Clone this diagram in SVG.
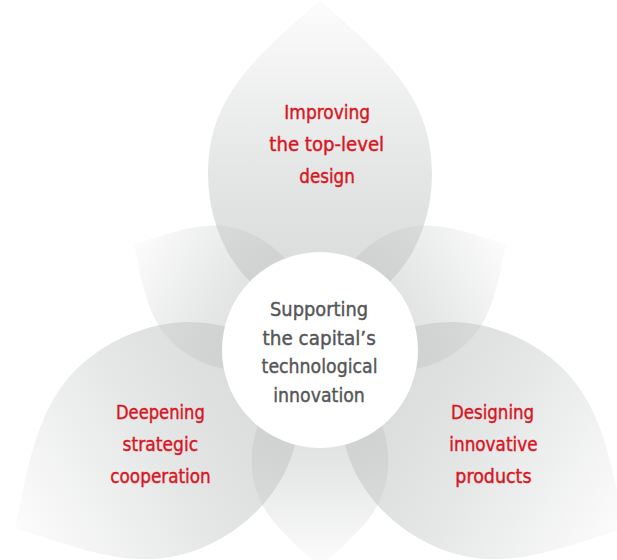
<svg xmlns="http://www.w3.org/2000/svg" width="617" height="560" viewBox="0 0 617 560">
  <defs>
    <linearGradient id="petalGrad" gradientUnits="userSpaceOnUse" x1="0" y1="-352" x2="0" y2="-40">
      <stop offset="0" stop-color="#c9cbcb" stop-opacity="0.06"/>
      <stop offset="0.2" stop-color="#c9cbcb" stop-opacity="0.22"/>
      <stop offset="0.56" stop-color="#c9cbcb" stop-opacity="0.5"/>
      <stop offset="1" stop-color="#c9cbcb" stop-opacity="0.74"/>
    </linearGradient>
    <path id="petal" d="M0,-352 C62,-296 112,-258 112,-178 A112,138 0 0 1 -112,-178 C-112,-258 -62,-296 0,-352 Z"/>
  </defs>
  <style>
    .petal { fill: url(#petalGrad); }
    .label { font-family: "DejaVu Sans Condensed", "DejaVu Sans", sans-serif; font-stretch: condensed; font-size: 20px; stroke-width: 0.4px; }
    .red { fill: #d7161f; stroke: #d7161f; }
    .dark { fill: #555657; stroke: #555657; }
  </style>
  <rect width="617" height="560" fill="#ffffff"/>

  <g id="petal-back-upper-left">
    <use href="#petal" class="petal" transform="translate(320,352) rotate(300) scale(0.61)"/>
  </g>
  <g id="petal-back-upper-right">
    <use href="#petal" class="petal" transform="translate(320,352) rotate(60) scale(0.61)"/>
  </g>
  <g id="petal-back-bottom">
    <use href="#petal" class="petal" transform="translate(320,352) rotate(180) scale(0.61)"/>
  </g>

  <g id="node-top-level-design">
    <use href="#petal" class="petal" transform="translate(320,352)"/>
    <text class="label red" x="284.3" y="119" textLength="85.8" lengthAdjust="spacingAndGlyphs">Improving</text>
    <text class="label red" x="269.3" y="150.7" textLength="114.8" lengthAdjust="spacingAndGlyphs">the top-level</text>
    <text class="label red" x="299.3" y="182.7" textLength="55.5" lengthAdjust="spacingAndGlyphs">design</text>
  </g>

  <g id="node-strategic-cooperation">
    <use href="#petal" class="petal" transform="translate(320,352) rotate(240)"/>
    <text class="label red" x="116" y="419" textLength="88.8" lengthAdjust="spacingAndGlyphs">Deepening</text>
    <text class="label red" x="122.6" y="450.5" textLength="75.5" lengthAdjust="spacingAndGlyphs">strategic</text>
    <text class="label red" x="110.3" y="482.7" textLength="100.5" lengthAdjust="spacingAndGlyphs">cooperation</text>
  </g>

  <g id="node-innovative-products">
    <use href="#petal" class="petal" transform="translate(320,352) rotate(120)"/>
    <text class="label red" x="451" y="419" textLength="83.1" lengthAdjust="spacingAndGlyphs">Designing</text>
    <text class="label red" x="449.3" y="450.5" textLength="88.2" lengthAdjust="spacingAndGlyphs">innovative</text>
    <text class="label red" x="455.3" y="482.7" textLength="76.2" lengthAdjust="spacingAndGlyphs">products</text>
  </g>

  <g id="node-center">
    <circle cx="320" cy="350" r="98" fill="#ffffff"/>
    <text class="label dark" x="270" y="316" textLength="98.1" lengthAdjust="spacingAndGlyphs">Supporting</text>
    <text class="label dark" x="262.6" y="344.5" textLength="113.2" lengthAdjust="spacingAndGlyphs">the capital’s</text>
    <text class="label dark" x="261.6" y="373" textLength="115.9" lengthAdjust="spacingAndGlyphs">technological</text>
    <text class="label dark" x="273.3" y="401.5" textLength="91.5" lengthAdjust="spacingAndGlyphs">innovation</text>
  </g>

  <g id="connectors"></g>
</svg>
